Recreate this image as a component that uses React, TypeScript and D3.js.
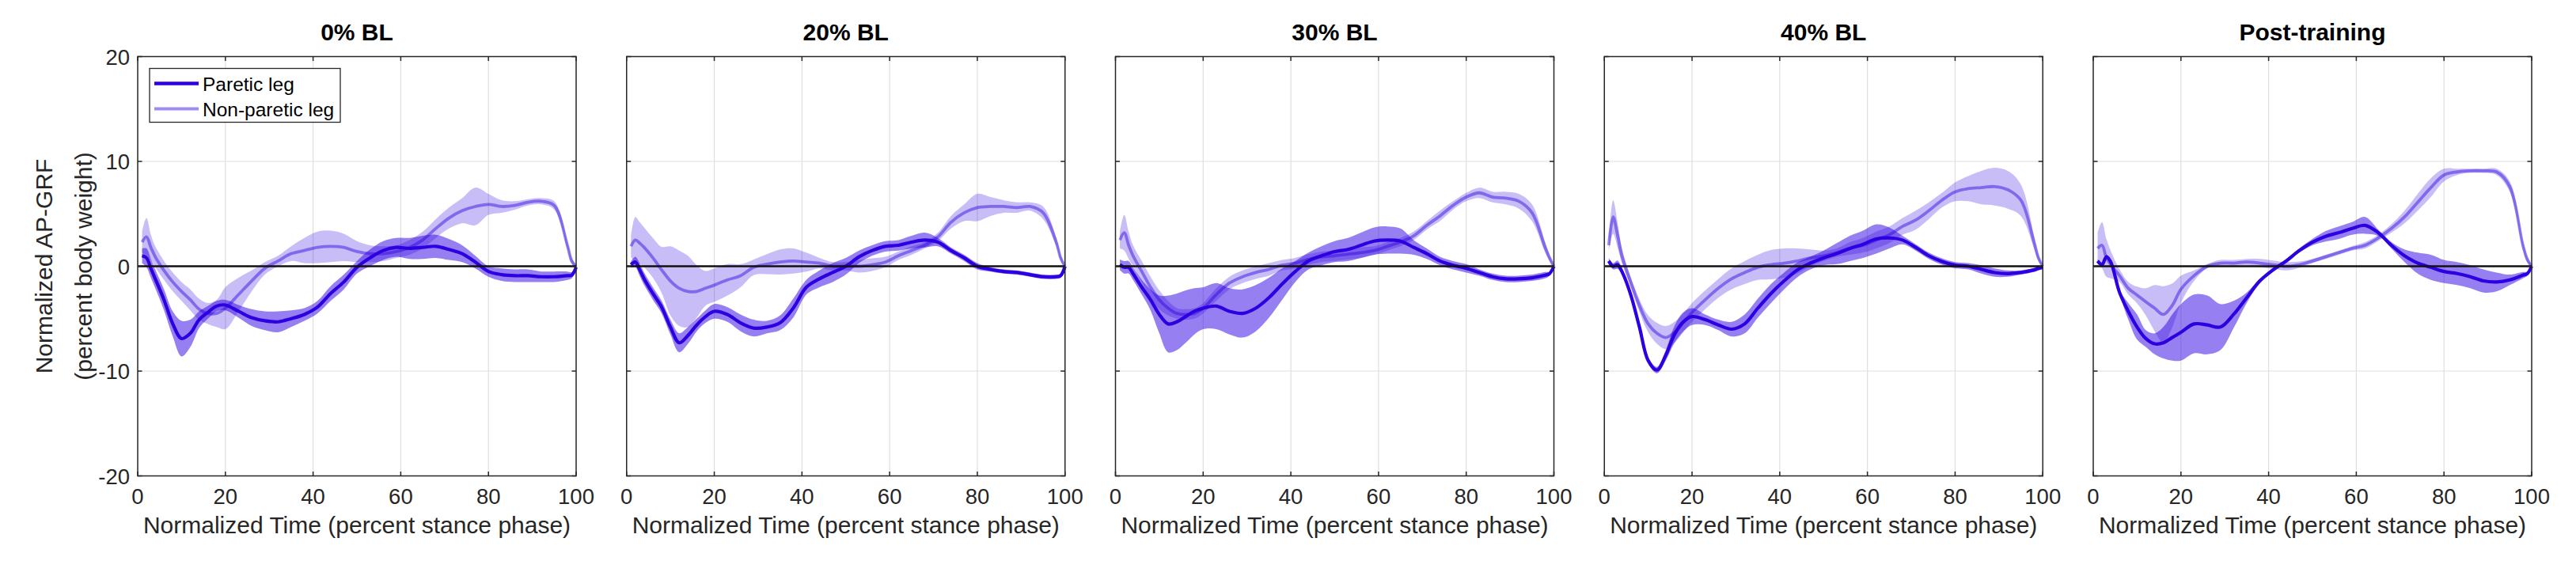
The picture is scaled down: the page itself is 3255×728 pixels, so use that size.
import * as d3 from 'd3';

// stance phase samples (percent)
const STANCE_PCT = [1, 2, 3, 4, 6, 8, 10, 12, 14, 16, 18, 20, 23, 26, 29, 32, 35, 38, 41, 44, 47, 50, 53, 56, 59, 62, 65, 68, 71, 74, 77, 80, 83, 86, 89, 92, 95, 98, 99, 100];

const PANEL_TITLES = ['0% BL', '20% BL', '30% BL', '40% BL', 'Post-training'];
const X_TICKS = [0, 20, 40, 60, 80, 100];
const Y_TICKS = [-20, -10, 0, 10, 20];
const LEGEND_LABELS = ['Paretic leg', 'Non-paretic leg'];

// 0% BL
const BL0_PARETIC_MEAN = [1.0, 0.8, -0.2, -1.2, -3.2, -5.5, -6.9, -6.4, -5.1, -4.4, -3.8, -3.7, -4.3, -4.9, -5.2, -5.3, -5.0, -4.6, -3.9, -2.6, -1.5, -0.1, 0.8, 1.5, 1.8, 1.7, 1.8, 1.9, 1.6, 1.2, 0.4, -0.5, -0.8, -0.9, -0.9, -1.0, -1.0, -0.9, -0.85, -0.1];
const BL0_PARETIC_SD = [0.7, 0.9, 0.9, 0.9, 1.0, 1.2, 1.7, 1.3, 0.8, 0.6, 0.5, 0.5, 0.6, 0.8, 0.9, 1.0, 0.8, 0.6, 0.6, 0.7, 0.7, 0.6, 0.8, 0.9, 0.9, 1.0, 1.1, 1.1, 1.0, 0.8, 0.6, 0.5, 0.6, 0.6, 0.6, 0.5, 0.5, 0.4, 0.3, 0.1];
const BL0_NONPARETIC_MEAN = [2.3, 2.8, 1.8, 0.9, -0.4, -1.5, -2.4, -3.2, -4.1, -4.5, -4.5, -4.0, -2.7, -1.4, -0.2, 0.5, 1.2, 1.5, 1.8, 1.9, 1.8, 1.4, 1.2, 1.2, 1.4, 1.8, 2.5, 3.6, 4.6, 5.3, 5.7, 5.9, 5.7, 5.8, 6.1, 6.2, 5.8, 2.0, 0.5, 0];
const BL0_NONPARETIC_SD = [1.0, 1.8, 1.2, 1.0, 0.9, 0.9, 0.9, 1.0, 1.0, 1.0, 1.3, 2.0, 1.6, 1.0, 0.6, 0.5, 0.7, 1.2, 1.5, 1.5, 1.3, 1.0, 0.8, 0.7, 0.6, 0.7, 0.8, 0.9, 1.0, 1.2, 1.8, 1.0, 0.6, 0.4, 0.3, 0.3, 0.4, 0.4, 0.3, 0.1];

// 20% BL
const BL20_PARETIC_MEAN = [0.15, 0.4, -0.35, -1.2, -2.6, -3.9, -5.8, -7.3, -6.6, -5.6, -4.8, -4.3, -4.6, -5.4, -5.9, -5.8, -5.4, -4.0, -2.0, -1.2, -0.6, 0.0, 0.9, 1.5, 1.9, 2.0, 2.3, 2.5, 2.3, 1.5, 0.8, 0.0, -0.3, -0.5, -0.6, -0.8, -1.0, -1.0, -0.9, 0];
const BL20_PARETIC_SD = [0.3, 0.5, 0.6, 0.6, 0.6, 0.6, 0.7, 0.9, 0.8, 0.6, 0.6, 0.7, 0.7, 0.8, 0.8, 0.6, 0.7, 0.9, 0.7, 0.8, 0.9, 0.8, 0.6, 0.5, 0.5, 0.5, 0.6, 0.7, 0.4, 0.3, 0.3, 0.3, 0.2, 0.2, 0.2, 0.2, 0.2, 0.2, 0.2, 0.1];
const BL20_NONPARETIC_MEAN = [1.9, 2.5, 2.2, 1.8, 0.8, -0.35, -1.4, -2.1, -2.4, -2.4, -2.1, -1.8, -1.3, -0.9, -0.1, 0.2, 0.4, 0.5, 0.4, 0.3, 0.0, 0.0, 0.0, 0.15, 0.4, 1.0, 1.5, 2.0, 2.8, 4.2, 5.1, 5.6, 5.7, 5.7, 5.6, 5.7, 5.1, 2.3, 0.8, 0];
const BL20_NONPARETIC_SD = [1.0, 2.2, 2.0, 1.9, 1.9, 2.2, 3.3, 3.6, 3.4, 2.5, 1.65, 1.6, 1.5, 1.1, 0.75, 0.95, 1.2, 1.2, 0.9, 0.5, 0.4, 0.4, 0.6, 0.6, 0.5, 0.4, 0.4, 0.3, 0.4, 0.6, 0.8, 1.3, 0.9, 0.6, 0.5, 0.4, 0.6, 0.4, 0.3, 0.1];

// 30% BL
const BL30_PARETIC_MEAN = [0.15, -0.1, -0.1, -0.7, -2.0, -3.2, -4.6, -5.5, -5.3, -4.8, -4.3, -4.0, -3.8, -4.3, -4.5, -4.0, -3.0, -1.7, -0.5, 0.5, 1.0, 1.4, 1.6, 2.0, 2.4, 2.5, 2.4, 1.8, 1.2, 0.5, 0.1, -0.2, -0.6, -1.0, -1.2, -1.2, -1.1, -0.85, -0.7, 0];
const BL30_PARETIC_SD = [0.5, 0.6, 0.6, 0.6, 0.7, 1.0, 1.8, 2.7, 2.7, 2.5, 2.2, 2.0, 2.2, 2.2, 2.3, 2.2, 1.9, 1.5, 1.0, 0.8, 0.9, 1.0, 1.1, 1.2, 1.3, 1.3, 1.2, 0.7, 0.5, 0.4, 0.4, 0.4, 0.3, 0.3, 0.3, 0.3, 0.3, 0.3, 0.2, 0.1];
const BL30_NONPARETIC_MEAN = [2.5, 3.2, 2.0, 1.0, -0.5, -2.0, -3.2, -4.0, -4.5, -4.6, -4.5, -4.0, -2.7, -1.6, -1.0, -0.6, -0.3, 0.1, 0.3, 0.65, 0.9, 1.0, 1.15, 1.3, 1.5, 1.9, 2.3, 2.9, 3.9, 4.8, 5.8, 6.6, 7.0, 6.6, 6.5, 6.2, 5.1, 1.8, 0.8, 0];
const BL30_NONPARETIC_SD = [0.8, 1.7, 1.3, 1.0, 1.0, 1.0, 0.9, 0.7, 0.5, 0.5, 0.5, 0.5, 0.6, 0.6, 0.6, 0.6, 0.6, 0.5, 0.5, 0.5, 0.5, 0.5, 0.5, 0.5, 0.4, 0.4, 0.4, 0.4, 0.4, 0.5, 0.4, 0.4, 0.5, 0.5, 0.6, 0.7, 0.8, 0.5, 0.3, 0.1];

// 40% BL
const BL40_PARETIC_MEAN = [0.5, 0.0, 0.15, -0.5, -2.7, -5.8, -9.0, -9.9, -8.5, -6.5, -5.3, -4.8, -5.1, -5.6, -6.0, -5.5, -4.0, -2.6, -1.4, -0.35, 0.3, 0.8, 1.2, 1.7, 2.1, 2.6, 2.7, 2.5, 1.8, 1.0, 0.45, 0.1, 0.0, -0.3, -0.6, -0.7, -0.6, -0.35, -0.2, -0.1];
const BL40_PARETIC_SD = [0.3, 0.3, 0.4, 0.3, 0.3, 0.3, 0.3, 0.3, 0.5, 0.8, 0.9, 0.8, 0.5, 0.5, 0.7, 0.9, 0.9, 0.9, 0.8, 0.7, 0.6, 0.7, 1.0, 1.2, 1.3, 1.4, 1.0, 0.4, 0.3, 0.3, 0.3, 0.3, 0.3, 0.4, 0.4, 0.3, 0.2, 0.2, 0.2, 0.1];
const BL40_NONPARETIC_MEAN = [2.0, 4.7, 3.0, 1.0, -1.5, -3.75, -5.5, -6.4, -6.8, -6.3, -5.4, -4.4, -3.2, -2.1, -1.2, -0.6, -0.1, 0.15, 0.3, 0.5, 0.8, 1.0, 1.3, 1.7, 2.0, 2.5, 3.0, 3.8, 4.4, 5.3, 6.3, 7.1, 7.4, 7.5, 7.6, 7.3, 6.3, 2.3, 0.8, 0];
const BL40_NONPARETIC_SD = [0.6, 1.6, 1.2, 0.7, 0.5, 0.6, 0.8, 1.0, 1.1, 1.0, 0.9, 0.9, 0.9, 0.9, 1.0, 1.1, 1.2, 1.4, 1.4, 1.2, 0.8, 0.5, 0.4, 0.6, 0.7, 0.8, 0.8, 0.8, 0.9, 0.8, 0.7, 0.9, 1.2, 1.6, 1.8, 1.8, 1.5, 0.6, 0.3, 0.1];

// Post-training
const POST_PARETIC_MEAN = [0.5, 0.15, 0.9, 0.4, -2.5, -4.3, -5.8, -6.9, -7.4, -7.3, -6.8, -6.3, -5.5, -5.6, -5.8, -4.6, -3.0, -1.4, -0.35, 0.5, 1.5, 2.3, 2.85, 3.2, 3.6, 3.9, 3.2, 2.0, 1.0, 0.3, -0.1, -0.5, -0.7, -1.0, -1.4, -1.5, -1.3, -0.85, -0.7, 0];
const POST_PARETIC_SD = [0.2, 0.2, 0.2, 0.2, 0.2, 0.8, 1.2, 0.8, 1.0, 1.5, 2.2, 2.7, 2.8, 2.8, 2.2, 1.3, 0.5, 0.2, 0.2, 0.2, 0.2, 0.3, 0.5, 0.6, 0.6, 0.8, 0.3, 0.3, 0.6, 1.0, 1.2, 1.1, 1.1, 1.1, 1.1, 0.9, 0.5, 0.3, 0.2, 0.1];
const POST_NONPARETIC_MEAN = [1.7, 2.0, 0.8, 0.15, -0.9, -2.1, -2.75, -3.4, -4.0, -4.6, -3.75, -2.2, -0.9, 0.0, 0.3, 0.3, 0.4, 0.3, 0.15, 0.0, 0.15, 0.5, 0.9, 1.3, 1.7, 2.0, 2.7, 3.6, 4.7, 6.1, 7.5, 8.7, 9.0, 9.1, 9.1, 9.0, 7.6, 2.0, 0.65, 0];
const POST_NONPARETIC_SD = [1.5, 2.2, 1.8, 1.3, 0.6, 0.6, 0.8, 1.3, 2.2, 2.7, 2.1, 1.3, 0.5, 0.2, 0.3, 0.3, 0.3, 0.4, 0.4, 0.4, 0.3, 0.2, 0.2, 0.2, 0.2, 0.3, 0.3, 0.4, 0.6, 0.8, 0.9, 0.6, 0.3, 0.2, 0.2, 0.3, 0.5, 0.4, 0.3, 0.1];

const PARETIC_MEANS = [BL0_PARETIC_MEAN, BL20_PARETIC_MEAN, BL30_PARETIC_MEAN, BL40_PARETIC_MEAN, POST_PARETIC_MEAN];
const PARETIC_SDS = [BL0_PARETIC_SD, BL20_PARETIC_SD, BL30_PARETIC_SD, BL40_PARETIC_SD, POST_PARETIC_SD];
const NONPARETIC_MEANS = [BL0_NONPARETIC_MEAN, BL20_NONPARETIC_MEAN, BL30_NONPARETIC_MEAN, BL40_NONPARETIC_MEAN, POST_NONPARETIC_MEAN];
const NONPARETIC_SDS = [BL0_NONPARETIC_SD, BL20_NONPARETIC_SD, BL30_NONPARETIC_SD, BL40_NONPARETIC_SD, POST_NONPARETIC_SD];

const WIDTH = 3255;
const HEIGHT = 728;
const FONT = 'Arial, "Liberation Sans", Helvetica, sans-serif';

const PARETIC_COLOR = 'rgb(45,0,225)';
const PARETIC_BAND = 'rgba(45,0,225,0.5)';
const NONPARETIC_COLOR = 'rgba(45,0,225,0.45)';
const NONPARETIC_BAND = 'rgba(45,0,225,0.26)';
const AXIS_COLOR = '#262626';
const GRID_COLOR = '#dfdfdf';

const margin = { left: 174, top: 71.5 };
const panelW = 554;
const panelH = 530;
const panelStep = 617.75;
const tickLen = 5.5;

interface PanelProps {
  index: number;
}

const Panel = ({ index }: PanelProps) => {
  const x = d3.scaleLinear().domain([0, 100]).range([0, panelW]);
  const y = d3.scaleLinear().domain([-20, 20]).range([panelH, 0]);

  const band = (mean: number[], sd: number[]) =>
    d3.area<number>()
      .x(i => x(STANCE_PCT[i]))
      .y0(i => y(mean[i] - sd[i]))
      .y1(i => y(mean[i] + sd[i]))
      .curve(d3.curveCatmullRom.alpha(0.5))(d3.range(STANCE_PCT.length)) || '';

  const line = (mean: number[]) =>
    d3.line<number>()
      .x(i => x(STANCE_PCT[i]))
      .y(i => y(mean[i]))
      .curve(d3.curveCatmullRom.alpha(0.5))(d3.range(STANCE_PCT.length)) || '';

  const left = margin.left + index * panelStep;

  return (
    <g transform={`translate(${left},${margin.top})`}>
      {/* grid */}
      {X_TICKS.filter(t => t > 0 && t < 100).map(t => (
        <line key={`gx${t}`} x1={x(t)} x2={x(t)} y1={0} y2={panelH} stroke={GRID_COLOR} strokeWidth={1.2} />
      ))}
      {Y_TICKS.filter(t => t !== 0 && Math.abs(t) < 20).map(t => (
        <line key={`gy${t}`} x1={0} x2={panelW} y1={y(t)} y2={y(t)} stroke={GRID_COLOR} strokeWidth={1.2} />
      ))}

      {/* bands and means */}
      <path d={band(NONPARETIC_MEANS[index], NONPARETIC_SDS[index])} fill={NONPARETIC_BAND} />
      <path d={line(NONPARETIC_MEANS[index])} fill="none" stroke={NONPARETIC_COLOR} strokeWidth={3.8} />
      <path d={band(PARETIC_MEANS[index], PARETIC_SDS[index])} fill={PARETIC_BAND} />
      <path d={line(PARETIC_MEANS[index])} fill="none" stroke={PARETIC_COLOR} strokeWidth={4.2} />

      {/* zero line */}
      <line x1={0} x2={panelW} y1={y(0)} y2={y(0)} stroke="#111" strokeWidth={2.4} />

      {/* axes box + ticks */}
      <rect x={0} y={0} width={panelW} height={panelH} fill="none" stroke={AXIS_COLOR} strokeWidth={1.5} />
      {X_TICKS.map(t => (
        <g key={`tx${t}`}>
          <line x1={x(t)} x2={x(t)} y1={panelH} y2={panelH - tickLen} stroke={AXIS_COLOR} strokeWidth={1.5} />
          <line x1={x(t)} x2={x(t)} y1={0} y2={tickLen} stroke={AXIS_COLOR} strokeWidth={1.5} />
          <text x={x(t)} y={panelH + 35} textAnchor="middle" fontSize={27.5} fill={AXIS_COLOR}>{t}</text>
        </g>
      ))}
      {Y_TICKS.map(t => (
        <g key={`ty${t}`}>
          <line x1={0} x2={tickLen} y1={y(t)} y2={y(t)} stroke={AXIS_COLOR} strokeWidth={1.5} />
          <line x1={panelW} x2={panelW - tickLen} y1={y(t)} y2={y(t)} stroke={AXIS_COLOR} strokeWidth={1.5} />
          {index === 0 && (
            <text x={-10} y={y(t) + 10} textAnchor="end" fontSize={27.5} fill={AXIS_COLOR}>{t}</text>
          )}
        </g>
      ))}

      {/* labels */}
      <text x={panelW / 2} y={panelH + 72} textAnchor="middle" fontSize={30} fill={AXIS_COLOR}>
        Normalized Time (percent stance phase)
      </text>
      <text x={panelW / 2} y={-21} textAnchor="middle" fontSize={30} fontWeight="bold" fill="#000">
        {PANEL_TITLES[index]}
      </text>

      {index === 0 && (
        <g transform="translate(15,15)">
          <rect x={0} y={0} width={241} height={68} fill="#fff" stroke={AXIS_COLOR} strokeWidth={1.3} />
          {LEGEND_LABELS.map((label, i) => (
            <g key={label} transform={`translate(0,${19 + i * 32})`}>
              <line x1={6} x2={62} y1={0} y2={0} stroke={i === 0 ? PARETIC_COLOR : NONPARETIC_COLOR} strokeWidth={i === 0 ? 4.5 : 4} />
              <text x={67} y={9} fontSize={24.5} fill="#000">{label}</text>
            </g>
          ))}
        </g>
      )}
    </g>
  );
};

export default function App() {
  const yMid = margin.top + panelH / 2;
  return (
    <svg
      width={WIDTH}
      height={HEIGHT}
      viewBox={`0 0 ${WIDTH} ${HEIGHT}`}
      style={{ position: 'absolute', left: 0, top: 0, background: '#fff', fontFamily: FONT }}
    >
      <rect width={WIDTH} height={HEIGHT} fill="#fff" />
      {PANEL_TITLES.map((_, i) => <Panel key={i} index={i} />)}
      <text transform={`translate(66,${yMid}) rotate(-90)`} textAnchor="middle" fontSize={30} fill={AXIS_COLOR}>
        Normalized AP-GRF
      </text>
      <text transform={`translate(116,${yMid}) rotate(-90)`} textAnchor="middle" fontSize={30} fill={AXIS_COLOR}>
        (percent body weight)
      </text>
    </svg>
  );
}
